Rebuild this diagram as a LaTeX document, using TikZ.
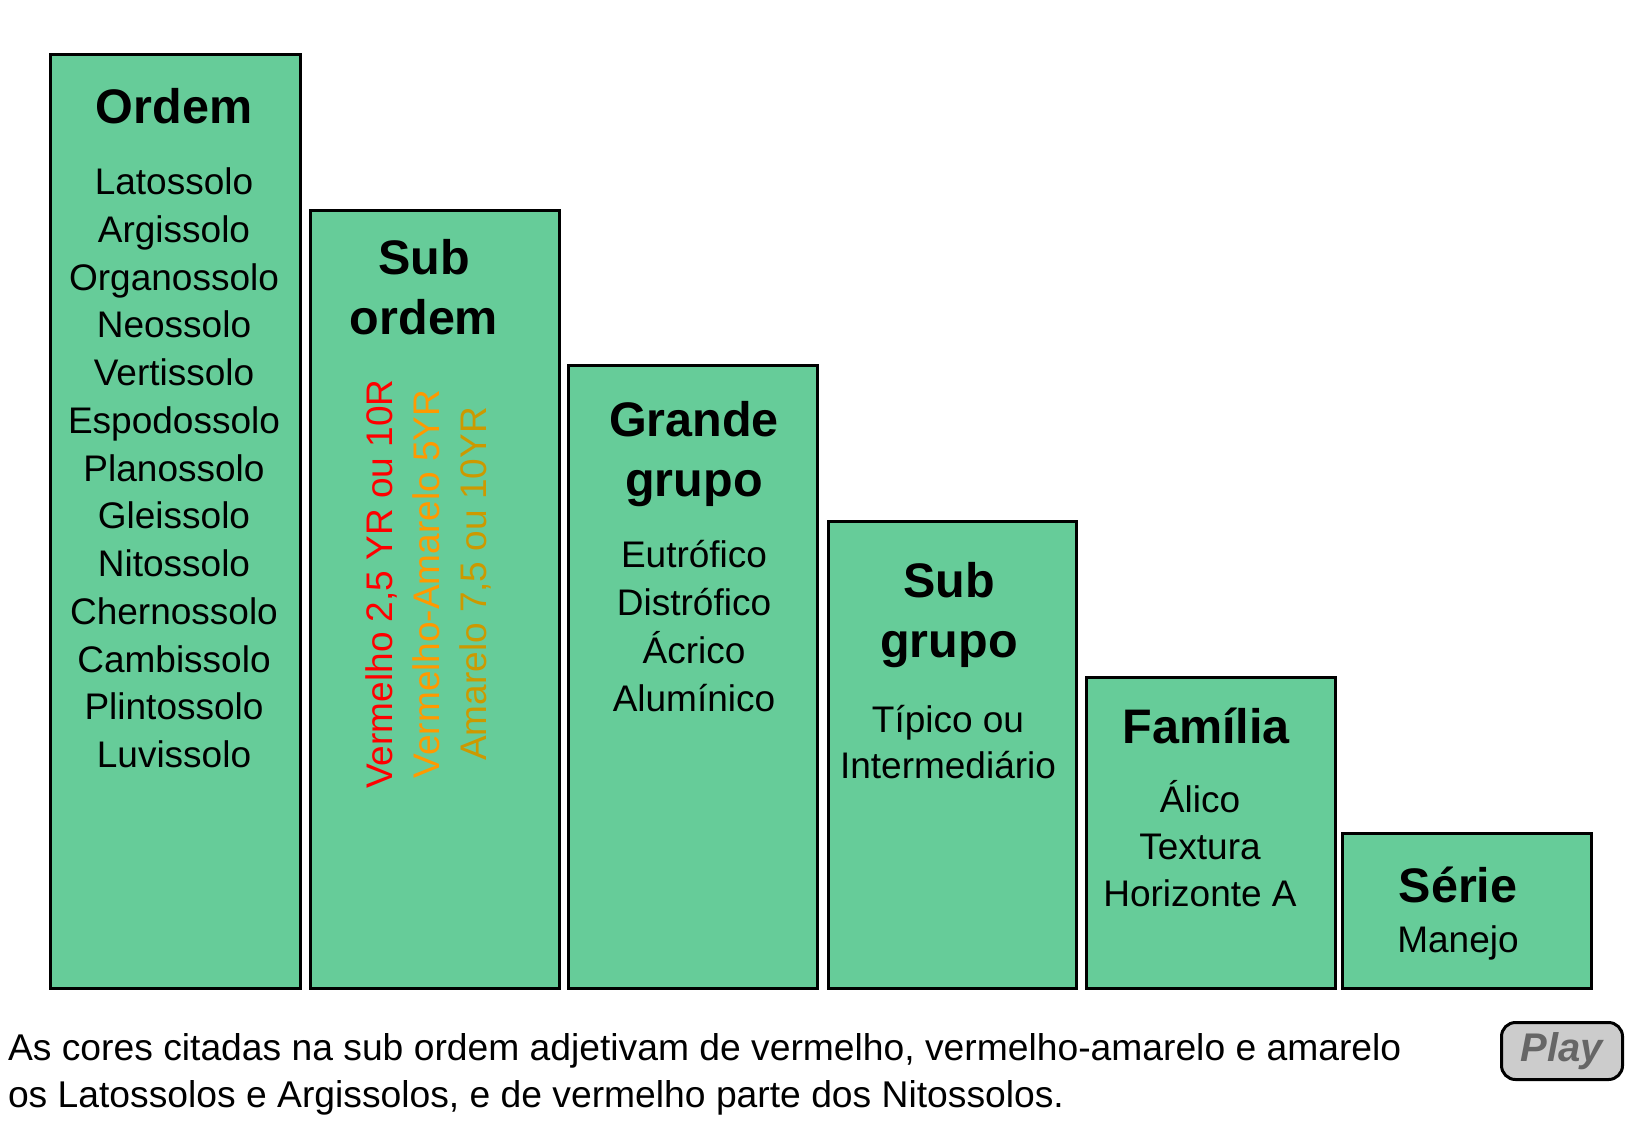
\documentclass[tikz,border=0pt]{standalone}
\usepackage{fontspec}
\setmainfont{Liberation Sans}
\usepackage{xcolor}
\usetikzlibrary{positioning}

\definecolor{soilgreen}{HTML}{66CC99}
\definecolor{redhue}{HTML}{FF0000}
\definecolor{orangehue}{HTML}{FF9900}
\definecolor{yellowhue}{HTML}{CC9900}
\definecolor{playgray}{HTML}{CCCCCC}
\definecolor{playtext}{HTML}{666666}

\begin{document}
\begin{tikzpicture}[x=1pt, y=-1pt,
    classbox/.style={draw=black, line width=3pt, fill=soilgreen, inner sep=0pt, anchor=north west},
    heading/.style={font=\fontsize{48.5}{60}\selectfont\bfseries, anchor=base},
    entry/.style={font=\fontsize{37}{47}\selectfont, anchor=base},
    playbutton/.style={draw=black, line width=3pt, fill=playgray, rounded corners=14pt,
        minimum width=121pt, minimum height=57pt, text=playtext,
        font=\fontsize{40}{48}\selectfont\bfseries\itshape}]
    \useasboundingbox (0,0) rectangle (1641,1128);

    % Boxes
    \node[classbox, minimum width=250pt, minimum height=934pt] (ordem) at (49,53) {};
    \node[classbox, minimum width=249pt, minimum height=778pt] (subordem) at (309,209) {};
    \node[classbox, minimum width=249pt, minimum height=623pt] (grandegrupo) at (567,364) {};
    \node[classbox, minimum width=248pt, minimum height=467pt] (subgrupo) at (827,520) {};
    \node[classbox, minimum width=249pt, minimum height=311pt] (familia) at (1085,676) {};
    \node[classbox, minimum width=249pt, minimum height=155pt] (serie) at (1341,832) {};

    % Ordem
    \node[heading] (ordemtitle) at (174,123) {Ordem};
    \foreach \soil [count=\i from 0] in {Latossolo, Argissolo, Organossolo, Neossolo,
        Vertissolo, Espodossolo, Planossolo, Gleissolo, Nitossolo, Chernossolo,
        Cambissolo, Plintossolo, Luvissolo} {
        \node[entry] (ordem\i) at (174,194.5+47.75*\i) {\soil};
    }

    % Sub ordem
    \node[heading] (subordemtitle1) at (424,274) {Sub};
    \node[heading] (subordemtitle2) at (424,334) {ordem};
    \node[entry, anchor=center, rotate=90, align=center] (cores) at (428,584)
        {\textcolor{redhue}{Vermelho 2,5 YR ou 10R}\\
         \textcolor{orangehue}{Vermelho-Amarelo 5YR}\\
         \textcolor{yellowhue}{Amarelo 7,5 ou 10YR}};

    % Grande grupo
    \node[heading] (grandetitle1) at (694,436) {Grande};
    \node[heading] (grandetitle2) at (694,496) {grupo};
    \foreach \item [count=\i from 0] in {Eutrófico, Distrófico, Ácrico, Alumínico} {
        \node[entry] (grande\i) at (694,567+48*\i) {\item};
    }

    % Sub grupo
    \node[heading] (subgrupotitle1) at (949,597) {Sub};
    \node[heading] (subgrupotitle2) at (949,657) {grupo};
    \node[entry] (subgrupo0) at (948,732) {Típico ou};
    \node[entry] (subgrupo1) at (948,778) {Intermediário};

    % Familia
    \node[heading] (familiatitle) at (1206,743) {Família};
    \foreach \item [count=\i from 0] in {Álico, Textura, Horizonte A} {
        \node[entry] (familia\i) at (1200,812+47*\i) {\item};
    }

    % Serie
    \node[heading] (serietitle) at (1458,902) {Série};
    \node[entry] (serie0) at (1458,952) {Manejo};

    % Note below the chart
    \node[entry, anchor=base west, font=\fontsize{37.25}{47}\selectfont] (note1) at (4.5,1060)
        {As cores citadas na sub ordem adjetivam de vermelho, vermelho-amarelo e amarelo};
    \node[entry, anchor=base west, font=\fontsize{37.25}{47}\selectfont] (note2) at (4.5,1107)
        {os Latossolos e Argissolos, e de vermelho parte dos Nitossolos.};

    % Play button
    \node[playbutton] (play) at (1562,1051) {Play};
\end{tikzpicture}
\end{document}
